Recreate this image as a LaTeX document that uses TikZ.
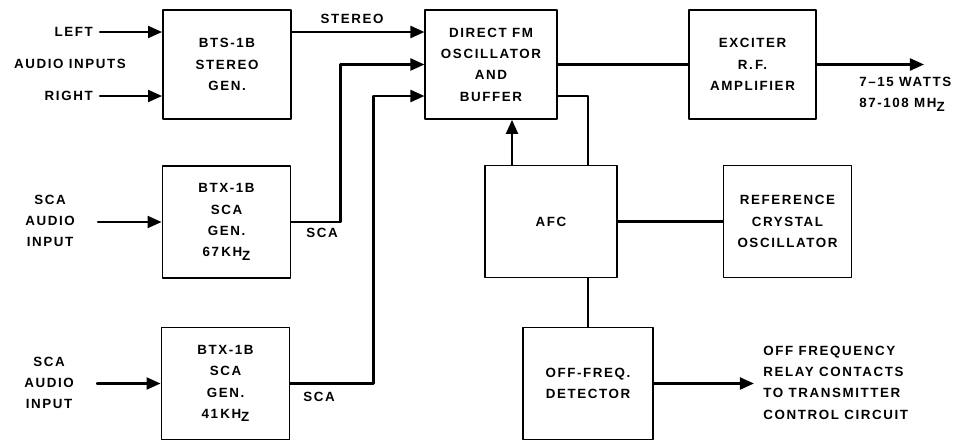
\documentclass[tikz,border=0pt]{standalone}
\usepackage{fontspec}
\setmainfont{Liberation Sans}
\newfontfamily\lblfont[LetterSpace=12]{Liberation Sans}
\usetikzlibrary{arrows.meta}

\newcommand{\subZ}{\raisebox{-0.5ex}{Z}}

\begin{document}
\begin{tikzpicture}[x=0.025cm, y=-0.025cm, line join=round, line cap=round,
  every node/.style={font=\lblfont\bfseries\fontsize{9.5}{15.2}\selectfont, inner sep=0pt},
  box/.style={draw, line width=1.3pt, minimum width=3.2cm, minimum height=2.8cm, align=center},
  sig/.style={line width=1.7pt, -{Triangle[length=10pt,width=8.5pt]}},
  wire/.style={line width=1.7pt}]
\useasboundingbox (0,0) rectangle (959,441);
% blocks
\node[box, minimum height=2.72cm] (bts) at (227,64.5) {BTS-1B\\STEREO\\GEN.};
\node[box, minimum width=3.28cm, minimum height=2.72cm] (dfm) at (491,64.5) {DIRECT FM\\OSCILLATOR\\AND\\BUFFER};
\node[box, minimum width=3.18cm, minimum height=2.72cm] (exc) at (752.5,64.5) {EXCITER\\R.\,F.\\AMPLIFIER};
\node[box] (scaa) at (226.5,222) {BTX-1B\\SCA\\GEN.\\67\,KH\subZ};
\node[box] (scab) at (225.5,383.5) {BTX-1B\\SCA\\GEN.\\41\,KH\subZ};
\node[box, minimum width=3.3cm] (afc) at (551,221.5) {AFC};
\node[box] (ref) at (787.5,221.5) {REFERENCE\\CRYSTAL\\OSCILLATOR};
\node[box, minimum width=3.25cm] (off) at (588,383.5) {OFF-FREQ.\\DETECTOR};
% labels
\node[anchor=east] (left) at (93,32) {LEFT};
\node[anchor=east] (right) at (93,96) {RIGHT};
\node (audio) at (70,64) {AUDIO INPUTS};
\node[align=center] (scaina) at (50,221) {SCA\\AUDIO\\INPUT};
\node[align=center] (scainb) at (49,383) {SCA\\AUDIO\\INPUT};
\node (stereo) at (352,19) {STEREO};
\node (scaouta) at (322,233) {SCA};
\node (scaoutb) at (319,397) {SCA};
\node[align=left, anchor=north west] (watts) at (859,77) {7\textendash15 WATTS\\87-108 MH\subZ};
\node[align=left, anchor=west] (relay) at (763,382.5) {OFF FREQUENCY\\RELAY CONTACTS\\TO TRANSMITTER\\CONTROL CIRCUIT};
\coordinate (ina) at (98,222);
\coordinate (inb) at (97,383.5);
% connections
\draw[sig] (left.east) ++(7,0) -- (bts.west |- left.east);
\draw[sig] (right.east) ++(7,0) -- (bts.west |- right.east);
\draw[sig] (ina) -- (scaa.west);
\draw[sig] (inb) -- (scab.west);
\draw[sig] (bts.east |- left.east) -- (dfm.west |- left.east);
\draw[sig] (scaa.east) -- ++(49,0) |- (dfm.west);
\draw[sig] (scab.east) -- ++(83,0) |- (dfm.west |- right.east);
\draw[wire] (dfm.east) -- (exc.west);
\draw[sig] (exc.east) -- ++(107,0) coordinate (out);
\draw[wire] (dfm.east |- right.east) -| (afc.north -| off.north);
\draw[sig] (512,0 |- afc.north) -- (512,0 |- dfm.south);
\draw[wire] (afc.east) -- (ref.west);
\draw[wire] (afc.south -| off.north) -- (off.north);
\draw[sig] (off.east) -- ++(100,0) coordinate (relayout);
\end{tikzpicture}
\end{document}
